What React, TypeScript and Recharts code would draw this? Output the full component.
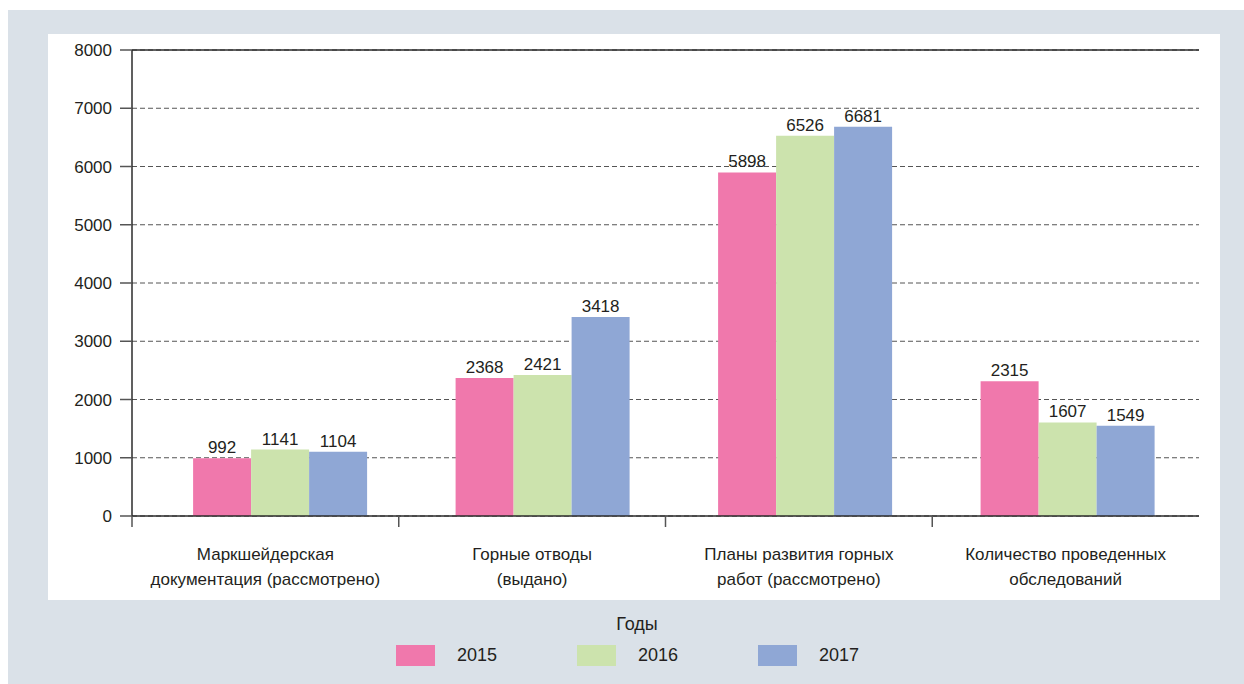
import React from 'react';
import { BarChart, Bar, XAxis, YAxis, CartesianGrid, ReferenceLine, LabelList } from 'recharts';

const categories = [
  ['Маркшейдерская', 'документация (рассмотрено)'],
  ['Горные отводы', '(выдано)'],
  ['Планы развития горных', 'работ (рассмотрено)'],
  ['Количество проведенных', 'обследований'],
];
const years = ['2015', '2016', '2017'];
const values2015 = [992, 2368, 5898, 2315];
const values2016 = [1141, 2421, 6526, 1607];
const values2017 = [1104, 3418, 6681, 1549];
const yTicks = [0, 1000, 2000, 3000, 4000, 5000, 6000, 7000, 8000];
const colors = ['#f078ac', '#cce3ad', '#8fa7d5'];

const data = categories.map((lines, i) => ({
  name: lines.join(' '),
  '2015': values2015[i],
  '2016': values2016[i],
  '2017': values2017[i],
}));

const font = '"Liberation Sans", Arial, sans-serif';
const ink = '#231f20';
const axisColor = '#2b2b2b';

// label axis: category names centred in each band, tick marks on the band boundaries
const CatTick = (props: any) => {
  const { x, y, payload, index } = props;
  const half = payload.offset ?? 0;
  const lines = categories[index] || [String(payload.value)];
  return (
    <g>
      <line x1={x - half} x2={x - half} y1={y} y2={y + 11} stroke="#555" strokeWidth={1.5} />
      {lines.map((l, k) => (
        <text key={k} x={x} y={y + 44 + k * 25} textAnchor="middle" fontSize={17} fill={ink} fontFamily={font}>
          {l}
        </text>
      ))}
    </g>
  );
};

export default function App() {
  return (
    <div style={{ position: 'absolute', left: 8, top: 10, width: 1236, height: 674, background: '#dae1e8', fontFamily: font }}>
      <div style={{ position: 'absolute', left: 40, top: 24, width: 1172, height: 566, background: '#fff' }}>
        <BarChart
          width={1172}
          height={566}
          data={data}
          margin={{ top: 16, right: 21, left: 0, bottom: 0 }}
          barCategoryGap="16.8%"
          barGap={0}
        >
          <CartesianGrid vertical={false} stroke="#555" strokeDasharray="5 3" />
          <XAxis
            dataKey="name"
            height={84}
            interval={0}
            tickLine={false}
            tickSize={0}
            tickMargin={0}
            axisLine={{ stroke: axisColor, strokeWidth: 1.5 }}
            tick={<CatTick />}
          />
          {/* bars sit a little right of centre in the original */}
          <XAxis xAxisId="bars" dataKey="name" hide padding={{ left: 17, right: 0 }} />
          <YAxis
            width={84}
            domain={[0, 8000]}
            ticks={yTicks}
            tickSize={12}
            tickMargin={8}
            axisLine={{ stroke: axisColor, strokeWidth: 1.5 }}
            tickLine={{ stroke: '#555', strokeWidth: 1.5 }}
            tick={{ fontSize: 17, fill: ink, fontFamily: font }}
          />
          <YAxis
            yAxisId="r"
            orientation="right"
            width={0}
            domain={[0, 8000]}
            tick={false}
            tickLine={false}
            axisLine={{ stroke: axisColor, strokeWidth: 1.5 }}
          />
          <ReferenceLine y={8000} stroke={axisColor} strokeWidth={1.5} />
          {years.map((yr, i) => (
            <Bar key={yr} xAxisId="bars" dataKey={yr} fill={colors[i]} isAnimationActive={false}>
              <LabelList dataKey={yr} position="top" offset={5} fontSize={17} fill={ink} fontFamily={font} />
            </Bar>
          ))}
        </BarChart>
      </div>
      <div style={{ position: 'absolute', left: 0, width: 1258, top: 604, textAlign: 'center', fontSize: 18, color: ink }}>
        Годы
      </div>
      <div style={{ position: 'absolute', left: 388, top: 635, display: 'flex' }}>
        {years.map((yr, i) => (
          <div key={yr} style={{ display: 'flex', alignItems: 'center', width: 181, fontSize: 18, color: ink }}>
            <div style={{ width: 39, height: 21, background: colors[i], marginRight: 22 }} />
            <span>{yr}</span>
          </div>
        ))}
      </div>
    </div>
  );
}
